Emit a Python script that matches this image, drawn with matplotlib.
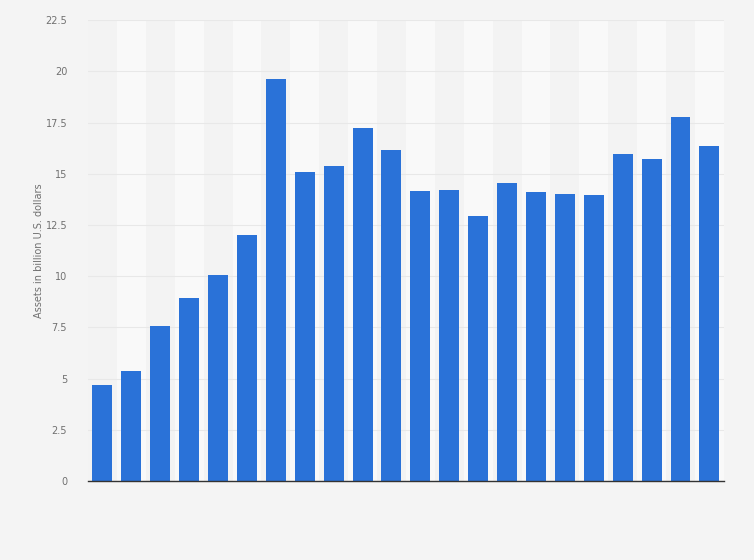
import matplotlib.pyplot as plt
import numpy as np

# Assets per year (22 bars, no x labels shown)
assets = [4.7, 5.37, 7.56, 8.93, 10.05, 12.0, 19.62, 15.08, 15.37, 17.23, 16.15,
          14.15, 14.2, 12.93, 14.54, 14.1, 14.0, 13.96, 15.96, 15.71, 17.76, 16.35]
y_ticks = [0, 2.5, 5, 7.5, 10, 12.5, 15, 17.5, 20, 22.5]
y_labels = ["0", "2.5", "5", "7.5", "10", "12.5", "15", "17.5", "20", "22.5"]

fig = plt.figure(figsize=(7.54, 5.6), dpi=100, facecolor="#f4f4f4")
ax = fig.add_axes([0.1167, 0.141, 0.8433, 0.823])
ax.set_facecolor("#f3f3f3")

x = np.arange(len(assets))
# alternating light column bands
for i in x:
    if i % 2 == 1:
        ax.axvspan(i - 0.5, i + 0.5, color="#f9f9f9", zorder=0, lw=0)

ax.bar(x, assets, width=0.69, color="#2a72d8", zorder=3)

ax.set_xlim(-0.5, len(assets) - 0.5)
ax.set_ylim(0, 22.5)
ax.set_yticks(y_ticks)
ax.set_yticklabels(y_labels)
ax.set_xticks([])
ax.yaxis.grid(True, color="#e8e8e8", lw=0.8, zorder=1)
ax.set_axisbelow(True)

for side in ["top", "right", "left"]:
    ax.spines[side].set_visible(False)
ax.spines["bottom"].set_color("#333333")
ax.spines["bottom"].set_linewidth(1)
ax.spines["bottom"].set_zorder(4)

ax.tick_params(axis="y", length=0, labelsize=7, labelcolor="#707070", pad=15)
ax.set_ylabel("Assets in billion U.S. dollars", fontsize=7, color="#707070", labelpad=1)

fig.savefig("out.png", dpi=100, facecolor=fig.get_facecolor())
